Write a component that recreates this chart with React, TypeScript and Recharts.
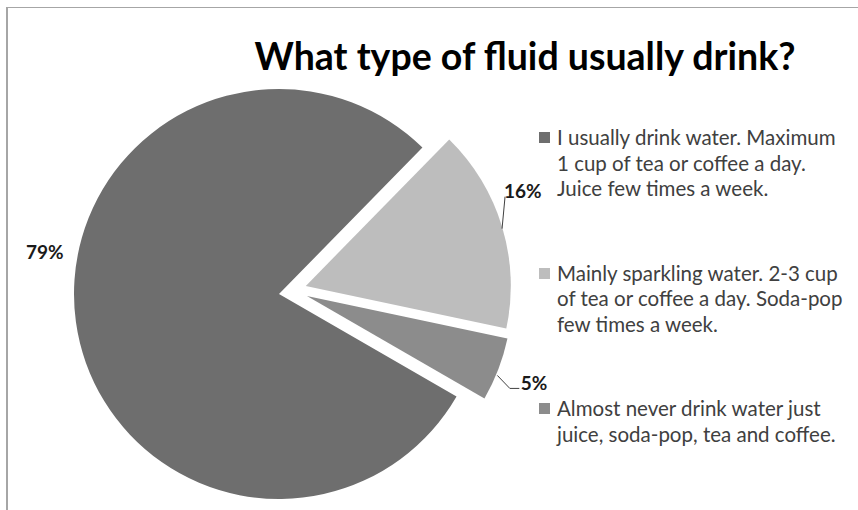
import { PieChart, Pie, Cell, Legend } from 'recharts'

const categories = [
  'I usually drink water. Maximum\n1 cup of tea or coffee a day.\nJuice few times a week.',
  'Mainly sparkling water. 2-3 cup\nof tea or coffee a day. Soda-pop\nfew times a week.',
  'Almost never drink water just\njuice, soda-pop, tea and coffee.',
]
const shares = [79, 16, 5]
const sliceColors = ['#6e6e6e', '#bdbdbd', '#8c8c8c']
const explode = [0, 28, 28]
// extra turn (degrees) of the explode direction, the small slice is pushed more to the right
const explodeTurn = [0, 0, 17]

const data = categories.map((name, i) => ({ name, value: shares[i] }))

const CX = 274
const CY = 289
const R = 205
const START = -30
const RAD = Math.PI / 180
const total = shares.reduce((a, b) => a + b, 0)

const offsets = shares.map((v, i) => {
  const before = shares.slice(0, i).reduce((a, b) => a + b, 0)
  const mid = (START - ((before + v / 2) / total) * 360 + explodeTurn[i]) * RAD
  return { dx: explode[i] * Math.cos(mid), dy: -explode[i] * Math.sin(mid) }
})

const labelStyle = { fontFamily: 'Lato', fontWeight: 700, fontSize: 19, fill: '#1a1a1a' }

const renderLabel = (k: number) => (props: any) => {
  if (props.index !== k) return null
  const { cx, cy, midAngle, outerRadius, percent } = props
  const text = `${Math.round(percent * 100)}%`
  const ax = cx + outerRadius * Math.cos(-midAngle * RAD)
  const ay = cy + outerRadius * Math.sin(-midAngle * RAD)
  if (k === 0) {
    const a = (midAngle - 18) * RAD
    const r = outerRadius + 33
    return (
      <text x={cx + r * Math.cos(-a)} y={cy + r * Math.sin(-a)} textAnchor="middle" dominantBaseline="central" style={labelStyle}>
        {text}
      </text>
    )
  }
  if (k === 1) {
    return (
      <g>
        <path d={`M${ax},${ay + 2}L${ax + 3},${ay - 30}`} stroke="#404040" strokeWidth={1} fill="none" />
        <text x={ax + 2} y={ay - 36} textAnchor="start" dominantBaseline="central" style={labelStyle}>
          {text}
        </text>
      </g>
    )
  }
  return (
    <g>
      <path d={`M${ax - 1},${ay + 6}L${ax + 11.5},${ay + 19}L${ax + 21},${ay + 19}`} stroke="#404040" strokeWidth={1} fill="none" />
      <text x={ax + 22.5} y={ay + 13.5} textAnchor="start" dominantBaseline="central" style={labelStyle}>
        {text}
      </text>
    </g>
  )
}

const renderLegend = () => (
  <div style={{ fontFamily: 'Lato', fontSize: 20.5, color: '#404040' }}>
    {categories.map((c, i) => (
      <div key={i} style={{ display: 'flex', alignItems: 'flex-start', height: 135.5 }}>
        <span style={{ width: 11, height: 11, background: sliceColors[i], marginTop: 7, marginRight: 7, flex: 'none' }} />
        <span style={{ whiteSpace: 'pre-line', lineHeight: '25.5px' }}>{c}</span>
      </div>
    ))}
  </div>
)

export default function App() {
  return (
    <div style={{ position: 'absolute', left: 0, top: 0, width: 858, height: 510, overflow: 'hidden', background: '#fff' }}>
      <div style={{ position: 'absolute', left: 6, top: 7, width: 900, height: 600, borderTop: '1px solid #a6a6a6', borderLeft: '2px solid #a6a6a6' }} />
      <div style={{ position: 'absolute', left: 0, top: 0 }}>
        <PieChart width={858} height={510}>
          {shares.map((_, k) => (
            <Pie
              key={k}
              data={data}
              dataKey="value"
              nameKey="name"
              cx={CX + offsets[k].dx}
              cy={CY + offsets[k].dy}
              outerRadius={R}
              startAngle={START}
              endAngle={START - 360}
              stroke="none"
              label={renderLabel(k)}
              labelLine={false}
              isAnimationActive={false}
            >
              {data.map((_, i) => (
                <Cell key={i} fill={i === k ? sliceColors[i] : 'none'} stroke="none" />
              ))}
            </Pie>
          ))}
          <Legend content={renderLegend} wrapperStyle={{ position: 'absolute', left: 539, top: 125, width: 318 }} />
        </PieChart>
      </div>
      <div style={{ position: 'absolute', left: 0, width: 1050, top: 34, textAlign: 'center', fontFamily: 'Lato', fontWeight: 700, fontSize: 37.5, color: '#000', lineHeight: '44px' }}>
        What type of fluid usually drink?
      </div>
    </div>
  )
}
